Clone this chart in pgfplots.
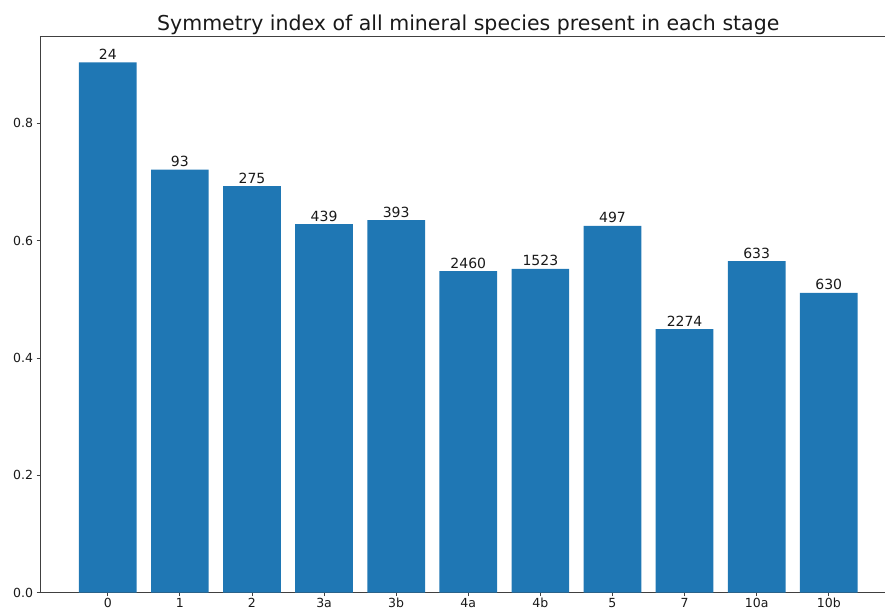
\documentclass[border=0pt]{standalone}
\usepackage{pgfplots}
\pgfplotsset{compat=1.18}
\usepackage{pgfplotstable}
\usepackage{fontspec}
\setmainfont{DejaVu Sans}
\definecolor{mplblue}{HTML}{1F77B4}
\pgfplotstableread{
x y n
0 0.904 24
1 0.721 93
2 0.693 275
3 0.628 439
4 0.635 393
5 0.548 2460
6 0.552 1523
7 0.625 497
8 0.449 2274
9 0.565 633
10 0.511 630
}\stagedata
\begin{document}
\begin{tikzpicture}
\useasboundingbox (-40pt,-18.5pt) rectangle (845pt,592.5pt);
\begin{axis}[
  scale only axis,
  width=845pt, height=556pt,
  xmin=-0.94, xmax=10.78,
  ymin=0, ymax=0.948,
  axis x line*=box, axis y line*=left,
  axis line style={black!75, line width=0.9pt, -},
  xtick={0,1,2,3,4,5,6,7,8,9,10},
  xticklabels={0,1,2,3a,3b,4a,4b,5,7,10a,10b},
  ytick={0,0.2,0.4,0.6,0.8},
  yticklabel style={/pgf/number format/.cd, fixed, fixed zerofill, precision=1},
  /pgf/number format/assume math mode=true,
  tick align=outside,
  major tick length=3.5pt,
  tick style={black!75, line width=0.8pt},
  xtick pos=bottom, ytick pos=left,
  ticklabel style={font=\fontsize{12.5}{14}\selectfont, text=black!90},
  xticklabel style={text height=9.3pt, text depth=0pt, inner sep=2pt},
  clip=false,
]
\addplot[ybar, bar width=0.8, fill=mplblue, draw=none,
  point meta=explicit symbolic,
  nodes near coords,
  nodes near coords style={anchor=base, yshift=3pt, inner sep=0pt, font=\fontsize{14}{16}\selectfont, text=black!90},
] table[x=x, y=y, meta=n] {\stagedata};
\node[anchor=base, font=\fontsize{20.5}{24}\selectfont, text=black!90] at (axis cs:5,0.948) [yshift=6pt] {Symmetry index of all mineral species present in each stage};
\end{axis}
\end{tikzpicture}
\end{document}
